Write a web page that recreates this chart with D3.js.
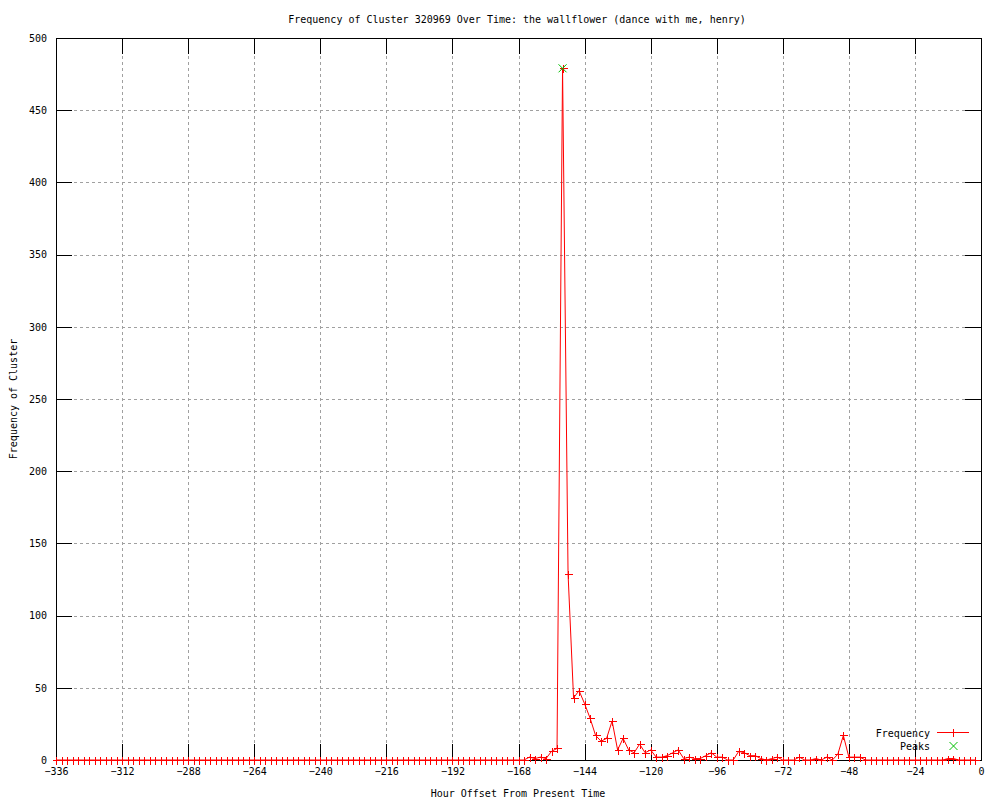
<!DOCTYPE html>
<html>
<head>
<meta charset="utf-8">
<script src="https://cdn.jsdelivr.net/npm/d3@7"></script>
<style>
  body { margin: 0; background: #fff; }
  text { font-family: "DejaVu Sans Mono", monospace; font-size: 10px; fill: #000; }
</style>
</head>
<body>
<div id="chart"></div>
<script>
// hours sampled every 2h, -336 .. -2
var hours = d3.range(-336, 0, 2);

// frequency per sample
var frequency = [
  0,0,0,0,0,0,0,0,0,0, 0,0,0,0,0,0,0,0,0,0,
  0,0,0,0,0,0,0,0,0,0, 0,0,0,0,0,0,0,0,0,0,
  0,0,0,0,0,0,0,0,0,0, 0,0,0,0,0,0,0,0,0,0,
  0,0,0,0,0,0,0,0,0,0, 0,0,0,0,0,0,0,0,0,0,
  0,0,0,0,0,0,
  2,1,2,1,6,8,479,129,43,48,
  39,29,17,13,15,27,7,15,7,5,
  11,5,7,2,2,3,5,7,1,2,
  1,1,3,5,2,2,0,0,6,5,
  3,3,1,0,1,2,0,0,0,2,
  0,0,1,0,2,0,4,17,2,2,
  2,
  0,0,0,0,0,0,0,0,0,0,0,0,0,0,0,
  1,1,
  0,0,0,0
];

var peakHours = [-152];
var peakValues = [479];

var xTicks = [-336, -312, -288, -264, -240, -216, -192, -168, -144, -120, -96, -72, -48, -24, 0];
var yTicks = [0, 50, 100, 150, 200, 250, 300, 350, 400, 450, 500];

var svgWidth = 1000, svgHeight = 800;
var margin = {top: 38, right: 19, bottom: 40, left: 56},
    width = svgWidth - margin.left - margin.right,
    height = svgHeight - margin.top - margin.bottom;

var svg = d3.select("#chart").append("svg")
    .attr("width", svgWidth)
    .attr("height", svgHeight);

var g = svg.append("g")
    .attr("transform", `translate(${margin.left}, ${margin.top})`);

var x = d3.scaleLinear().domain([-336, 0]).range([0, width]);
var y = d3.scaleLinear().domain([0, 500]).range([height, 0]);

// grid
var grid = g.append("g").attr("shape-rendering", "crispEdges")
    .attr("stroke", "#a0a0a0").attr("stroke-dasharray", "3,3");
grid.selectAll(".gx").data(xTicks.slice(1, -1)).enter().append("line")
    .attr("x1", d => Math.round(x(d)) + 0.5).attr("x2", d => Math.round(x(d)) + 0.5)
    .attr("y1", 0).attr("y2", height);
grid.selectAll(".gy").data(yTicks.slice(1, -1)).enter().append("line")
    .attr("y1", d => Math.round(y(d)) + 0.5).attr("y2", d => Math.round(y(d)) + 0.5)
    .attr("x1", 0).attr("x2", width);

// axes with inward ticks
function styleAxis(sel) {
  sel.select(".domain").remove();
  sel.selectAll("line").attr("stroke", "#000");
  sel.attr("shape-rendering", "crispEdges");
  sel.selectAll("text").style("font-family", "DejaVu Sans Mono, monospace").style("font-size", "10px");
}
g.append("g").attr("transform", `translate(0,${height})`)
  .call(d3.axisBottom(x).tickValues(xTicks).tickSize(-16).tickPadding(8).tickFormat(d3.format("d")))
  .call(styleAxis);
g.append("g")
  .call(d3.axisTop(x).tickValues(xTicks).tickSize(-16).tickFormat(""))
  .call(styleAxis);
g.append("g")
  .call(d3.axisLeft(y).tickValues(yTicks).tickSize(-16).tickPadding(9))
  .call(styleAxis);
g.append("g").attr("transform", `translate(${width},0)`)
  .call(d3.axisRight(y).tickValues(yTicks).tickSize(-16).tickFormat(""))
  .call(styleAxis);

// frame
g.append("rect").attr("x", 0.5).attr("y", 0.5).attr("width", width).attr("height", height)
  .attr("fill", "none").attr("stroke", "#000").attr("shape-rendering", "crispEdges");

// frequency line
var data = hours.map((h, i) => ({h: h, v: frequency[i]}));
var line = d3.line().x(d => x(d.h)).y(d => y(d.v));
g.append("path").datum(data)
  .attr("fill", "none").attr("stroke", "#ff0000").attr("stroke-width", 1)
  .attr("d", line);

function plus(sel, cx, cy, color) {
  sel.append("path")
    .attr("d", `M${cx - 4},${cy}H${cx + 4}M${cx},${cy - 4}V${cy + 4}`)
    .attr("stroke", color).attr("fill", "none").attr("shape-rendering", "crispEdges");
}
function cross(sel, cx, cy, color) {
  sel.append("path")
    .attr("d", `M${cx - 4},${cy - 4}L${cx + 4},${cy + 4}M${cx - 4},${cy + 4}L${cx + 4},${cy - 4}`)
    .attr("stroke", color).attr("fill", "none");
}

var marks = g.append("g");
data.forEach(d => plus(marks, Math.round(x(d.h)) + 0.5, Math.round(y(d.v)) + 0.5, "#ff0000"));

var peaks = g.append("g");
peakHours.forEach((h, i) => cross(peaks, x(h), y(peakValues[i]), "#00c000"));

// legend
var lg = svg.append("g");
lg.append("text").attr("x", 930).attr("y", 733).attr("dy", "0.35em").attr("text-anchor", "end").text("Frequency");
lg.append("line").attr("x1", 937).attr("x2", 969).attr("y1", 732.5).attr("y2", 732.5)
  .attr("stroke", "#ff0000").attr("shape-rendering", "crispEdges");
plus(lg, 953.5, 732.5, "#ff0000");
lg.append("text").attr("x", 930).attr("y", 746).attr("dy", "0.35em").attr("text-anchor", "end").text("Peaks");
cross(lg, 953.5, 746, "#00c000");

// titles
svg.append("text").attr("x", 517).attr("y", 19).attr("dy", "0.35em").attr("text-anchor", "middle")
  .text("Frequency of Cluster 320969 Over Time: the wallflower (dance with me, henry)");
svg.append("text").attr("x", 518).attr("y", 793).attr("dy", "0.35em").attr("text-anchor", "middle")
  .text("Hour Offset From Present Time");
svg.append("text").attr("transform", "translate(13,399) rotate(-90)").attr("dy", "0.35em")
  .attr("text-anchor", "middle").text("Frequency of Cluster");
</script>
</body>
</html>
